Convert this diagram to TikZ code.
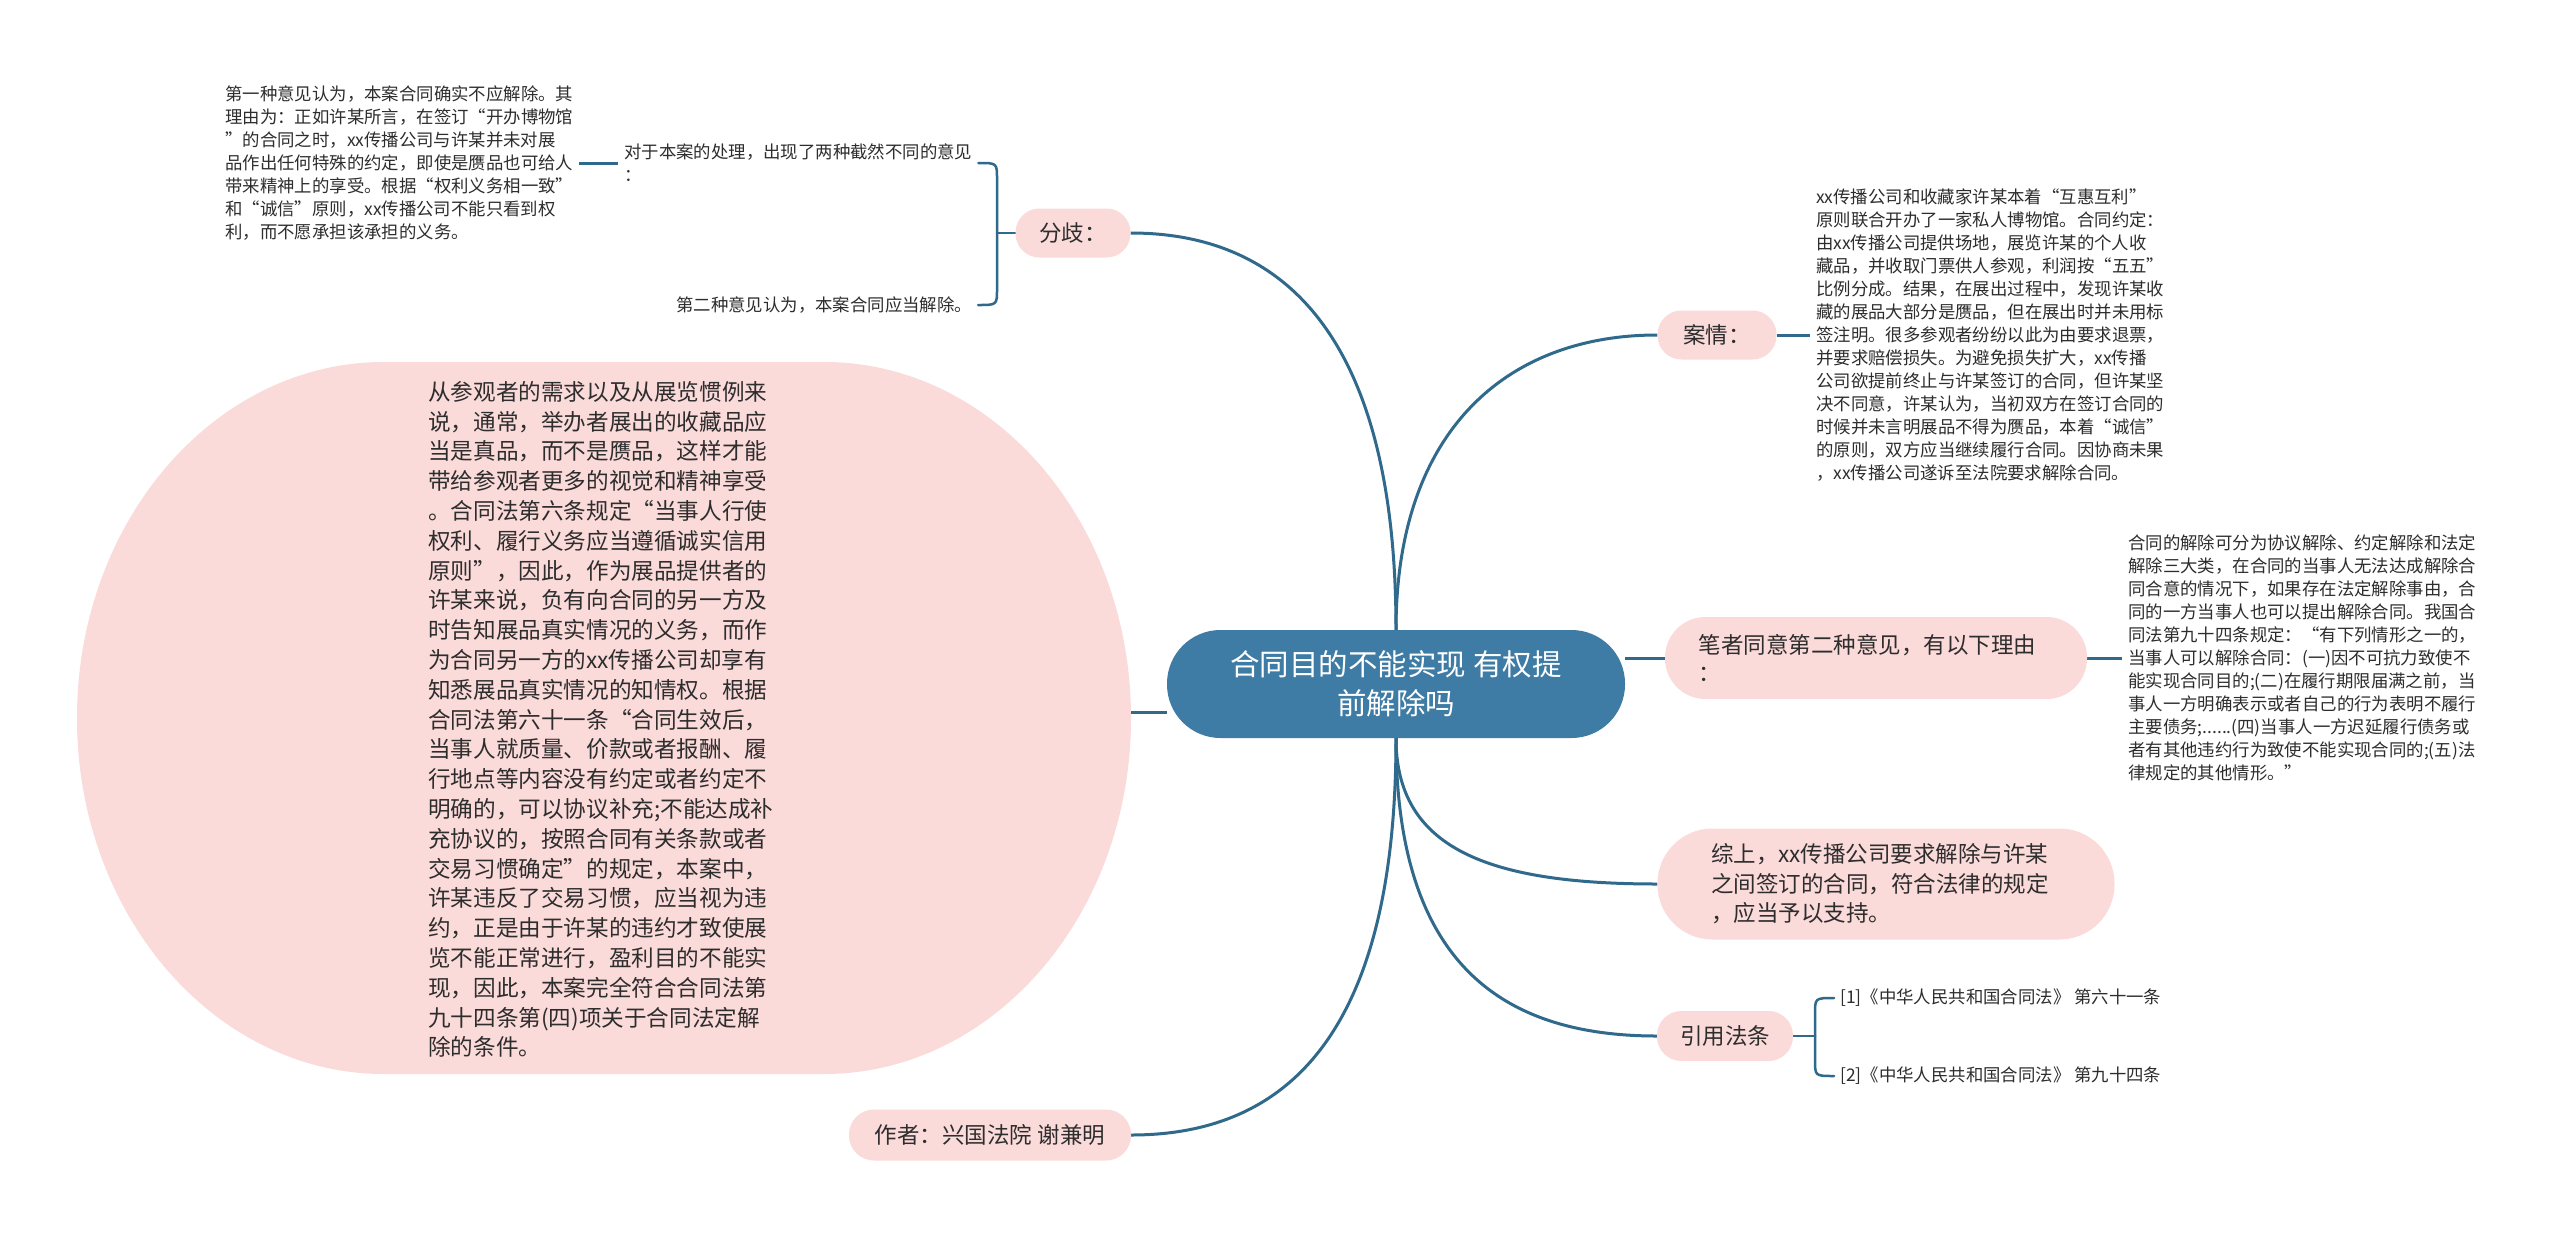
\documentclass[tikz,border=0pt]{standalone}
\usepackage{fontspec}
\setmainfont{Noto Sans CJK SC}
\usetikzlibrary{calc,backgrounds}
\definecolor{linec}{RGB}{47,105,140}
\definecolor{rootc}{RGB}{62,124,165}
\definecolor{pinkc}{RGB}{251,218,218}
\definecolor{txtc}{RGB}{45,45,45}
\tikzset{
  pinkbox/.style={fill=pinkc, text=txtc, inner sep=0pt, align=left},
  rootbox/.style={fill=rootc, text=white, inner sep=0pt, align=center, minimum width=458pt, minimum height=108pt, rounded corners=53.5pt, font=\fontsize{29.5}{39}\selectfont},
  midfont/.style={font=\fontsize{22.5}{28}\selectfont},
  smalltext/.style={text=txtc, inner sep=6pt, align=left, anchor=west, font=\fontsize{17.4}{23}\selectfont},
  conn/.style={draw=linec, line width=3pt},
  brack/.style={draw=linec, line width=2.5pt, line cap=round},
}
\begin{document}
\begin{tikzpicture}[x=1pt,y=-1pt]
\useasboundingbox (0,0) rectangle (2560,1237);
% big left shape
\fill[pinkc] (384,362) -- (824,362) arc[start angle=90, end angle=-90, x radius=307pt, y radius=356pt] -- (384,1074) arc[start angle=270, end angle=90, x radius=307pt, y radius=356pt] -- cycle;
\coordinate (bigR) at (1131,712);
\node[text=txtc, inner sep=0pt, align=left, anchor=west, font=\fontsize{22.6}{29.8}\selectfont] (bigtext) at (428,719.5) {从参观者的需求以及从展览惯例来\\说，通常，举办者展出的收藏品应\\当是真品，而不是赝品，这样才能\\带给参观者更多的视觉和精神享受\\。合同法第六条规定“当事人行使\\权利、履行义务应当遵循诚实信用\\原则”，因此，作为展品提供者的\\许某来说，负有向合同的另一方及\\时告知展品真实情况的义务，而作\\为合同另一方的xx传播公司却享有\\知悉展品真实情况的知情权。根据\\合同法第六十一条“合同生效后，\\当事人就质量、价款或者报酬、履\\行地点等内容没有约定或者约定不\\明确的，可以协议补充;不能达成补\\充协议的，按照合同有关条款或者\\交易习惯确定”的规定，本案中，\\许某违反了交易习惯，应当视为违\\约，正是由于许某的违约才致使展\\览不能正常进行，盈利目的不能实\\现，因此，本案完全符合合同法第\\九十四条第(四)项关于合同法定解\\除的条件。};
% root
\node[rootbox] (root) at (1396,684) {合同目的不能实现 有权提\\前解除吗};
% first level
\node[pinkbox, midfont, align=center, minimum width=115pt, minimum height=49pt, rounded corners=24pt] (fenqi) at (1073,233) {分歧：};
\node[pinkbox, midfont, align=center, minimum width=119pt, minimum height=49pt, rounded corners=24pt] (anqing) at (1717,335) {案情：};
\node[pinkbox, midfont, text width=355pt, minimum width=422pt, minimum height=82pt, rounded corners=40.5pt] (bizhe) at (1876,658) {笔者同意第二种意见，有以下理由\\：};
\node[pinkbox, font=\fontsize{22.5}{29.5}\selectfont, text width=350pt, minimum width=457pt, minimum height=111pt, rounded corners=55pt] (zong) at (1886,884) {综上，xx传播公司要求解除与许某\\之间签订的合同，符合法律的规定\\，应当予以支持。};
\node[pinkbox, midfont, align=center, minimum width=136pt, minimum height=50pt, rounded corners=24.5pt] (yinyong) at (1725,1036) {引用法条};
\node[pinkbox, midfont, align=center, minimum width=282pt, minimum height=51pt, rounded corners=25pt] (zuozhe) at (990,1135) {作者：兴国法院 谢兼明};
% small texts
\node[smalltext] (op1) at (219,163) {第一种意见认为，本案合同确实不应解除。其\\理由为：正如许某所言，在签订“开办博物馆\\”的合同之时，xx传播公司与许某并未对展\\品作出任何特殊的约定，即使是赝品也可给人\\带来精神上的享受。根据“权利义务相一致”\\和“诚信”原则，xx传播公司不能只看到权\\利，而不愿承担该承担的义务。};
\node[smalltext] (duiyu) at (618,163) {对于本案的处理，出现了两种截然不同的意见\\：};
\node[smalltext] (op2) at (670,305) {第二种意见认为，本案合同应当解除。};
\node[smalltext] (case) at (1810,335) {xx传播公司和收藏家许某本着“互惠互利”\\原则联合开办了一家私人博物馆。合同约定：\\由xx传播公司提供场地，展览许某的个人收\\藏品，并收取门票供人参观，利润按“五五”\\比例分成。结果，在展出过程中，发现许某收\\藏的展品大部分是赝品，但在展出时并未用标\\签注明。很多参观者纷纷以此为由要求退票，\\并要求赔偿损失。为避免损失扩大，xx传播\\公司欲提前终止与许某签订的合同，但许某坚\\决不同意，许某认为，当初双方在签订合同的\\时候并未言明展品不得为赝品，本着“诚信”\\的原则，双方应当继续履行合同。因协商未果\\，xx传播公司遂诉至法院要求解除合同。};
\node[smalltext] (law) at (2122,658) {合同的解除可分为协议解除、约定解除和法定\\解除三大类，在合同的当事人无法达成解除合\\同合意的情况下，如果存在法定解除事由，合\\同的一方当事人也可以提出解除合同。我国合\\同法第九十四条规定：“有下列情形之一的，\\当事人可以解除合同：(一)因不可抗力致使不\\能实现合同目的;(二)在履行期限届满之前，当\\事人一方明确表示或者自己的行为表明不履行\\主要债务;......(四)当事人一方迟延履行债务或\\者有其他违约行为致使不能实现合同的;(五)法\\律规定的其他情形。”};
\node[smalltext] (ref1) at (1834,998) {[1]《中华人民共和国合同法》 第六十一条};
\node[smalltext] (ref2) at (1834,1076) {[2]《中华人民共和国合同法》 第九十四条};
\coordinate (fb) at (997,233);
\coordinate (rb) at (1815,1036);
\begin{scope}[on background layer]
\fill[white] (0,0) rectangle (2560,1237);
\draw[conn] (root.north) .. controls +(0,-270) and +(170,0) .. (fenqi.east);
\draw[conn] (root.north) .. controls +(0,-200) and +(-150,0) .. (anqing.west);
\draw[conn] (root.south) .. controls +(0,110) and +(-170,0) .. (zong.west);
\draw[conn] (root.south) .. controls +(0,220) and +(-160,0) .. (yinyong.west);
\draw[conn] (root.south) .. controls +(0,290) and +(160,0) .. (zuozhe.east);
\draw[conn] (bizhe.west) -- (bizhe.west -| root.east);
\draw[conn] (bigR) -- (bigR -| root.west);
\draw[conn] (op1.east) -- (duiyu.west);
\draw[conn] (anqing.east) -- (case.west);
\draw[conn] (bizhe.east) -- (law.west);
\draw[brack] (fenqi.west) -- (fb);
\draw[brack] (fb) -- ($(fb |- duiyu.east)+(0,16)$) .. controls (fb |- duiyu.east) .. (duiyu.east);
\draw[brack] (fb) -- ($(fb |- op2.east)+(0,-16)$) .. controls (fb |- op2.east) .. (op2.east);
\draw[brack] (yinyong.east) -- (rb);
\draw[brack] (rb) -- ($(rb |- ref1.west)+(0,16)$) .. controls (rb |- ref1.west) .. (ref1.west);
\draw[brack] (rb) -- ($(rb |- ref2.west)+(0,-16)$) .. controls (rb |- ref2.west) .. (ref2.west);
\end{scope}
\end{tikzpicture}
\end{document}
